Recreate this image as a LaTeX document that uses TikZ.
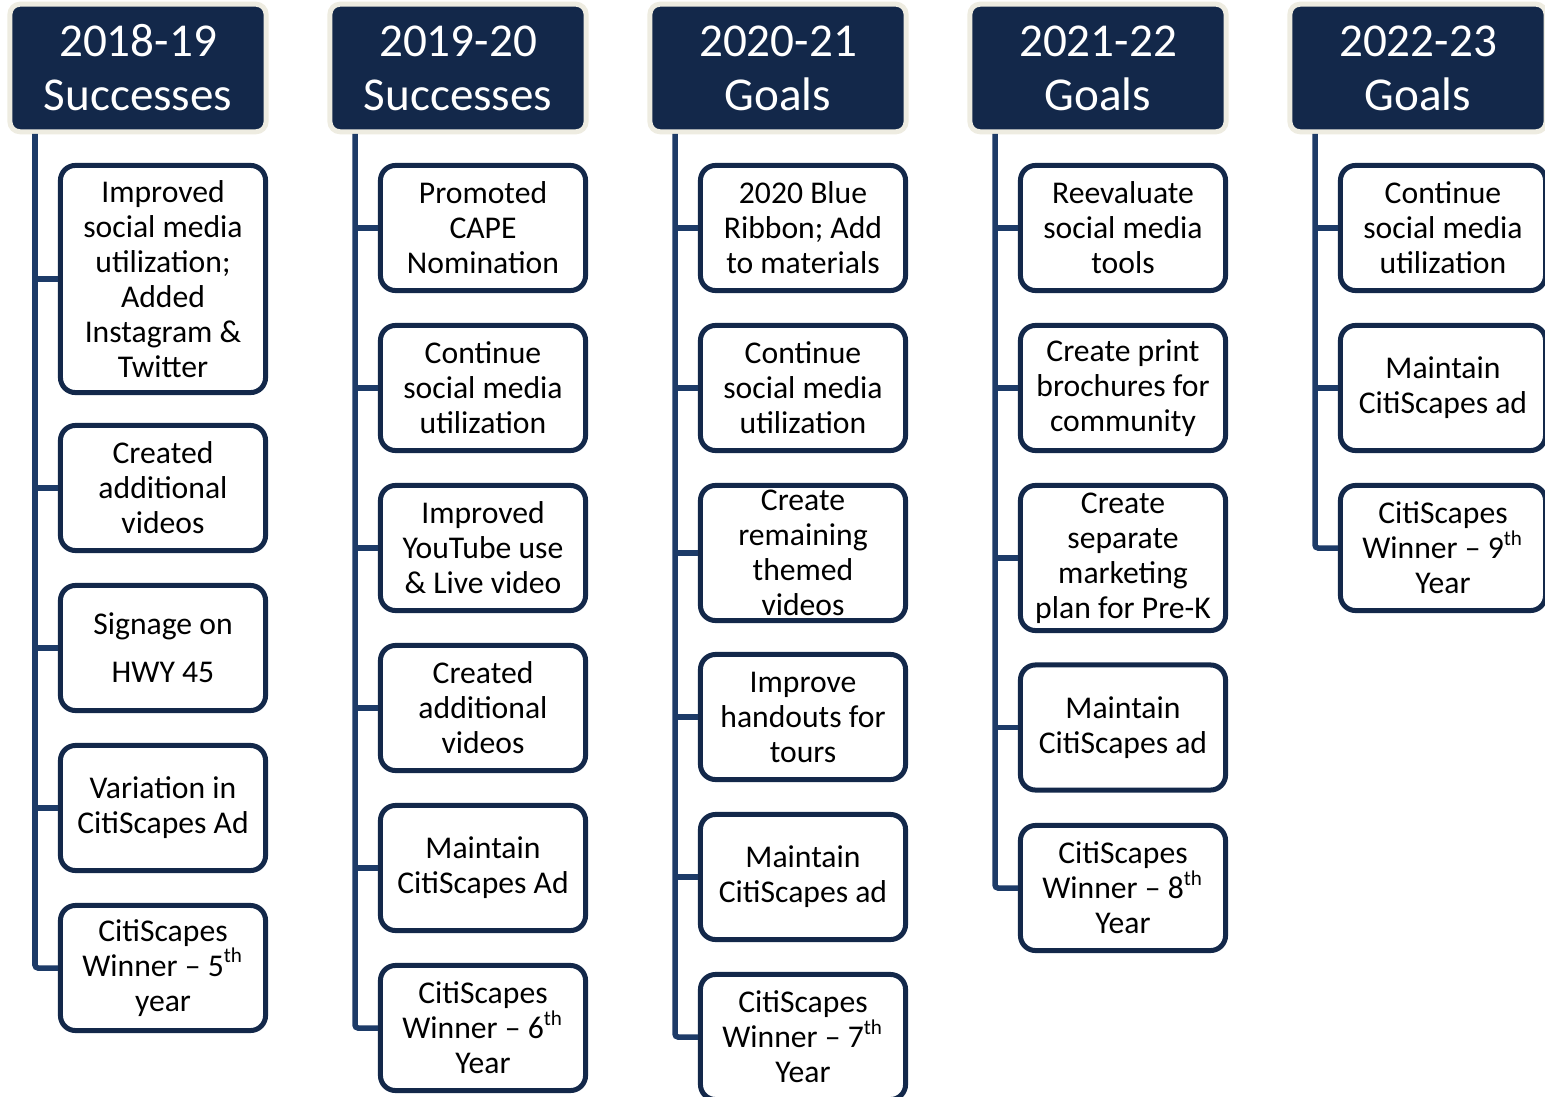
\documentclass[tikz,border=0pt]{standalone}
\usepackage{fontspec}
\setmainfont{Carlito}
\definecolor{hdrnavy}{HTML}{13284A}
\definecolor{hdredge}{HTML}{EEECE1}
\definecolor{linkblue}{HTML}{1D3B68}
\usepackage{tikz}
\usetikzlibrary{positioning}

\begin{document}
\begin{tikzpicture}[x=0.01cm, y=-0.01cm,
    hdr/.style={fill=hdrnavy, draw=hdredge, line width=0.05cm,
      rounded corners=0.1cm, minimum width=2.56cm, minimum height=1.275cm,
      inner sep=0pt, text=white, align=center,
      font=\fontsize{13.4}{15.4}\selectfont},
    item/.style={fill=white, draw=hdrnavy, line width=0.05cm,
      rounded corners=0.15cm, minimum width=2.05cm, minimum height=1.25cm,
      inner sep=0pt, align=center, font=\fontsize{9}{9.96}\selectfont},
    link/.style={draw=linkblue, line width=0.055cm}]
        \useasboundingbox (0,0) rectangle (1545,1097);
        % Column 1: 2018-19 successes
        \node[hdr] (h1) at (138, 68) {2018-19\\Successes};
        \coordinate (s1) at (35, 134);
        \node[item, minimum height=2.27cm] (a1) at (163, 279)
          {Improved\\social media\\utilization;\\Added\\Instagram \&\\Twitter};
        \node[item] (a2) at (163, 488) {Created\\additional\\videos};
        \node[item] (a3) at (163, 648) {Signage on\\[3.7pt]HWY 45};
        \node[item] (a4) at (163, 808) {Variation in\\CitiScapes Ad};
        \node[item] (a5) at (163, 968)
          {CitiScapes\\Winner -- 5\textsuperscript{th}\\year};
        \draw[link, rounded corners=0.03cm] (s1) |- (a5.west);
        \draw[link] (a1.west -| s1) -- (a1.west);
        \draw[link] (a2.west -| s1) -- (a2.west);
        \draw[link] (a3.west -| s1) -- (a3.west);
        \draw[link] (a4.west -| s1) -- (a4.west);
        % Column 2: 2019-20 successes
        \node[hdr] (h2) at (458, 68) {2019-20\\Successes};
        \coordinate (s2) at (355, 134);
        \node[item] (b1) at (483, 228) {Promoted\\CAPE\\Nomination};
        \node[item] (b2) at (483, 388) {Continue\\social media\\utilization};
        \node[item] (b3) at (483, 548) {Improved\\YouTube use\\\& Live video};
        \node[item] (b4) at (483, 708) {Created\\additional\\videos};
        \node[item] (b5) at (483, 868) {Maintain\\CitiScapes Ad};
        \node[item] (b6) at (483, 1028)
          {CitiScapes\\Winner -- 6\textsuperscript{th}\\Year};
        \draw[link, rounded corners=0.03cm] (s2) |- (b6.west);
        \draw[link] (b1.west -| s2) -- (b1.west);
        \draw[link] (b2.west -| s2) -- (b2.west);
        \draw[link] (b3.west -| s2) -- (b3.west);
        \draw[link] (b4.west -| s2) -- (b4.west);
        \draw[link] (b5.west -| s2) -- (b5.west);
        % Column 3: 2020-21 goals
        \node[hdr] (h3) at (778, 68) {2020-21\\Goals};
        \coordinate (s3) at (675, 134);
        \node[item] (c1) at (803, 228) {2020 Blue\\Ribbon; Add\\to materials};
        \node[item] (c2) at (803, 388) {Continue\\social media\\utilization};
        \node[item, minimum height=1.35cm] (c3) at (803, 553)
          {Create\\remaining\\themed\\videos};
        \node[item] (c4) at (803, 717) {Improve\\handouts for\\tours};
        \node[item] (c5) at (803, 877) {Maintain\\CitiScapes ad};
        \node[item] (c6) at (803, 1037)
          {CitiScapes\\Winner -- 7\textsuperscript{th}\\Year};
        \draw[link, rounded corners=0.03cm] (s3) |- (c6.west);
        \draw[link] (c1.west -| s3) -- (c1.west);
        \draw[link] (c2.west -| s3) -- (c2.west);
        \draw[link] (c3.west -| s3) -- (c3.west);
        \draw[link] (c4.west -| s3) -- (c4.west);
        \draw[link] (c5.west -| s3) -- (c5.west);
        % Column 4: 2021-22 goals
        \node[hdr] (h4) at (1098, 68) {2021-22\\Goals};
        \coordinate (s4) at (995, 134);
        \node[item] (d1) at (1123, 228) {Reevaluate\\social media\\tools};
        \node[item] (d2) at (1123, 388)
          {Create print\\brochures for\\community};
        \node[item, minimum height=1.45cm] (d3) at (1123, 558)
          {Create\\separate\\marketing\\plan for Pre-K};
        \node[item] (d4) at (1123, 727.5) {Maintain\\CitiScapes ad};
        \node[item] (d5) at (1123, 888)
          {CitiScapes\\Winner -- 8\textsuperscript{th}\\Year};
        \draw[link, rounded corners=0.03cm] (s4) |- (d5.west);
        \draw[link] (d1.west -| s4) -- (d1.west);
        \draw[link] (d2.west -| s4) -- (d2.west);
        \draw[link] (d3.west -| s4) -- (d3.west);
        \draw[link] (d4.west -| s4) -- (d4.west);
        % Column 5: 2022-23 goals
        \node[hdr] (h5) at (1418, 68) {2022-23\\Goals};
        \coordinate (s5) at (1315, 134);
        \node[item] (e1) at (1443, 228) {Continue\\social media\\utilization};
        \node[item] (e2) at (1443, 388) {Maintain\\CitiScapes ad};
        \node[item] (e3) at (1443, 548)
          {CitiScapes\\Winner -- 9\textsuperscript{th}\\Year};
        \draw[link, rounded corners=0.03cm] (s5) |- (e3.west);
        \draw[link] (e1.west -| s5) -- (e1.west);
        \draw[link] (e2.west -| s5) -- (e2.west);
      \end{tikzpicture}
\end{document}
